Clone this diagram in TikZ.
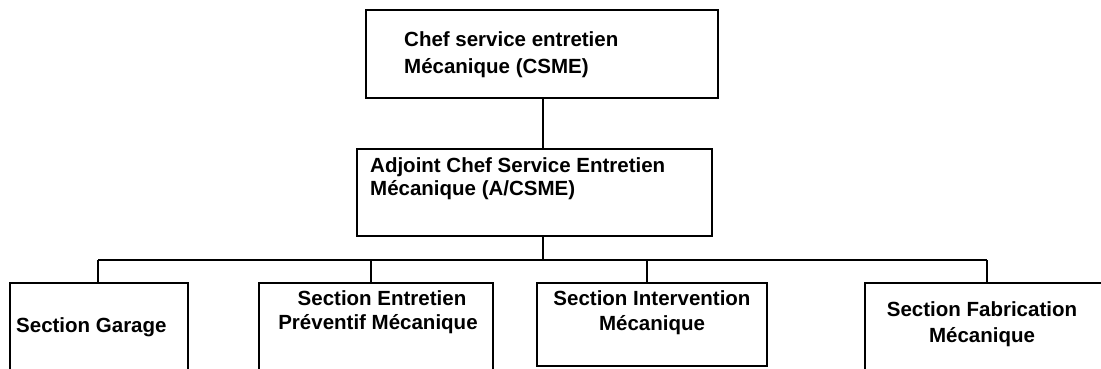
\documentclass[tikz,border=0pt]{standalone}
\usepackage{fontspec}
\setmainfont{Liberation Sans}
\begin{document}
\begin{tikzpicture}[x=1pt,y=-1pt,
  box/.style={draw,line width=1.6pt,rectangle,inner sep=0pt},
  link/.style={line width=1.6pt},
  lbl/.style={inner sep=0pt,font=\fontsize{20.5}{24}\selectfont\bfseries}]
\useasboundingbox (0,0) rectangle (1101,369);
\clip (0,0) rectangle (1101,369);

% boxes
\node[box,minimum width=352pt,minimum height=88pt] (csme) at (542,54) {};
\node[box,minimum width=355pt,minimum height=87pt] (acsme) at (534.5,192.5) {};
\node[box,minimum width=178pt,minimum height=117pt] (garage) at (99,341.5) {};
\node[box,minimum width=234pt,minimum height=117pt] (prev) at (376,341.5) {};
\node[box,minimum width=230pt,minimum height=83pt] (interv) at (652,324.5) {};
\node[box,minimum width=244pt,minimum height=117pt] (fab) at (987,341.5) {};

% labels
\node[lbl,anchor=base west] (csme1) at (404,47) {Chef service entretien};
\node[lbl,anchor=base west] (csme2) at (404,74) {Mécanique (CSME)};
\node[lbl,anchor=base west] (acsme1) at (370,172) {Adjoint Chef Service Entretien};
\node[lbl,anchor=base west] (acsme2) at (370,195) {Mécanique (A/CSME)};
\node[lbl,anchor=base west] (garage1) at (16,332) {Section Garage};
\node[lbl,anchor=base] (prev1) at (382,305) {Section Entretien};
\node[lbl,anchor=base] (prev2) at (378,329) {Préventif Mécanique};
\node[lbl,anchor=base] (interv1) at (652,305) {Section Intervention};
\node[lbl,anchor=base] (interv2) at (652,330) {Mécanique};
\node[lbl,anchor=base] (fab1) at (982,316) {Section Fabrication};
\node[lbl,anchor=base] (fab2) at (982,342) {Mécanique};

% connectors
\coordinate (bus) at (543,260);
\coordinate (d1) at (98,260);
\coordinate (d2) at (371,260);
\coordinate (d3) at (647,260);
\coordinate (d4) at (987,260);
\draw[link] (bus |- csme.south) -- (bus |- acsme.north);
\draw[link] (bus |- acsme.south) -- (bus);
\draw[link] (d1) -- (d4);
\draw[link] (d1) -- (d1 |- garage.north);
\draw[link] (d2) -- (d2 |- prev.north);
\draw[link] (d3) -- (d3 |- interv.north);
\draw[link] (d4) -- (d4 |- fab.north);
\end{tikzpicture}
\end{document}
